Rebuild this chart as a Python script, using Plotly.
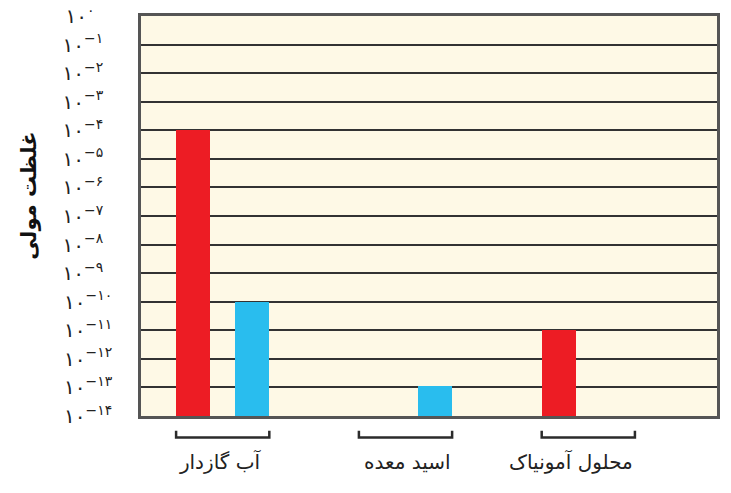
import plotly.graph_objects as go

categories = ["آب گازدار", "اسید معده", "محلول آمونیاک"]
red_values = [1e-4, None, 1e-11]
blue_values = [1e-10, 1e-13, None]
exponents = list(range(-14, 1))
fa_digits = "۰۱۲۳۴۵۶۷۸۹"


def fa(n):
    return "".join(fa_digits[int(c)] for c in str(n))


FIG_SP = "\u2007"


def tick_label(e):
    if e == 0:
        sup = fa(0) + FIG_SP * 2
    else:
        d = fa(-e)
        sup = "−" + d + FIG_SP * (2 - len(d))
    return "۱۰<sup>" + sup + "</sup>"


tick_vals = [10.0 ** e for e in exponents]
tick_text = [tick_label(e) for e in exponents]

RED = "#ED1C24"
BLUE = "#29BDEE"
BAR_W = 0.186
RED_OFF = -0.255
BLUE_OFF = 0.069
LABEL_SHIFT = [-0.015, 0.01, -0.095]
positions = list(range(len(categories)))
label_pos = [p + s for p, s in zip(positions, LABEL_SHIFT)]

fig = go.Figure()
fig.add_trace(go.Bar(x=positions, y=red_values, base=1e-14, width=BAR_W, offset=RED_OFF,
                     marker=dict(color=RED, line=dict(width=0)), showlegend=False))
fig.add_trace(go.Bar(x=positions, y=blue_values, base=1e-14, width=BAR_W, offset=BLUE_OFF,
                     marker=dict(color=BLUE, line=dict(width=0)), showlegend=False))

# brackets under each group
for p in positions:
    x0 = p + RED_OFF
    x1 = p + BLUE_OFF + BAR_W
    fig.add_shape(type="path", xref="x", yref="paper",
                  path=f"M {x0} -0.037 L {x0} -0.054 L {x1} -0.054 L {x1} -0.037",
                  line=dict(color="#2b2b2b", width=2.5))

fig.add_annotation(text="<b>غلظت مولی</b>", xref="paper", yref="paper",
                   x=-0.218, y=0.552, textangle=-90, showarrow=False,
                   font=dict(family="DejaVu Sans", size=21, color="#111"))

fig.update_layout(
    width=731, height=493,
    margin=dict(l=141, r=14, t=16, b=77),
    paper_bgcolor="white",
    plot_bgcolor="#FEF9E6",
    bargap=0,
    font=dict(family="DejaVu Sans", color="#222"),
    xaxis=dict(
        tickmode="array", tickvals=label_pos, ticktext=categories,
        range=[-0.447, 2.704], showgrid=False, zeroline=False,
        showline=True, mirror=True, linecolor="#555", linewidth=2.5,
        ticks="", ticklabelstandoff=26, tickfont=dict(size=20, color="#222"),
        automargin=False,
    ),
    yaxis=dict(
        type="log", range=[-14, 0], tickmode="array",
        tickvals=tick_vals, ticktext=tick_text,
        showgrid=True, gridcolor="#333", gridwidth=1.5,
        showline=True, mirror=True, linecolor="#555", linewidth=2.5,
        ticks="", ticklabelstandoff=22, tickfont=dict(size=20, color="#222"),
        zeroline=False, automargin=False,
    ),
)

fig.write_html("out.html", config={"displayModeBar": False},
               post_script="document.body.style.margin='0';")
